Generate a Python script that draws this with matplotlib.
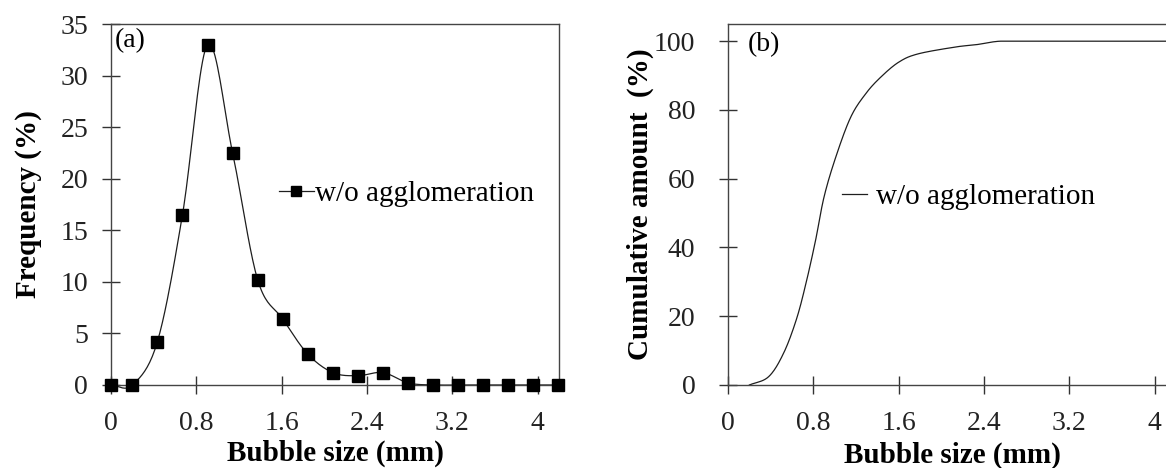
import numpy as np
import matplotlib
matplotlib.use("Agg")
import matplotlib.pyplot as plt

plt.rcParams['font.family'] = ['Liberation Serif', 'DejaVu Serif']

# (a) frequency distribution
size_a = [0, 0.2, 0.435, 0.67, 0.905, 1.14, 1.375, 1.61, 1.845, 2.08,
          2.315, 2.55, 2.785, 3.02, 3.255, 3.49, 3.725, 3.96, 4.195]
freq_a = [0, 0, 4.2, 16.5, 33.0, 22.5, 10.2, 6.4, 3.0, 1.2,
          0.9, 1.2, 0.2, 0, 0, 0, 0, 0, 0]

# (b) cumulative amount
size_b = [0.2, 0.38, 0.52, 0.64, 0.73, 0.82, 0.9, 1.01, 1.15, 1.29,
          1.43, 1.6, 1.78, 2.13, 2.33, 2.51, 2.65, 3.2, 4.2]
cum_b = [0, 2.4, 9.2, 19.0, 29.5, 42.0, 54.7, 66.3, 77.9, 84.7,
         89.5, 93.9, 96.3, 98.3, 99.0, 99.9, 100, 100, 100]

label = "w/o agglomeration"
ticks_x = [0, 0.8, 1.6, 2.4, 3.2, 4]
ticklabels_x = ['0', '0.8', '1.6', '2.4', '3.2', '4']
ink = '#1e1e1e'

FS_TICK = 20
FS_LAB = 21
FS_LEG = 21


def smooth(x, y, n=20):
    """Catmull-Rom pass through the points, close to Excel 'smoothed line'."""
    x = np.asarray(x, float)
    y = np.asarray(y, float)
    px = np.concatenate([[2 * x[0] - x[1]], x, [2 * x[-1] - x[-2]]])
    py = np.concatenate([[2 * y[0] - y[1]], y, [2 * y[-1] - y[-2]]])
    t = np.linspace(0, 1, n, endpoint=False)
    xs, ys = [], []
    for i in range(1, len(px) - 2):
        for p, out in ((px, xs), (py, ys)):
            p0, p1, p2, p3 = p[i - 1], p[i], p[i + 1], p[i + 2]
            out.extend(0.5 * (2 * p1 + (-p0 + p2) * t
                              + (2 * p0 - 5 * p1 + 4 * p2 - p3) * t ** 2
                              + (-p0 + 3 * p1 - 3 * p2 + p3) * t ** 3))
    xs.append(x[-1])
    ys.append(y[-1])
    return np.array(xs), np.array(ys)


fig = plt.figure(figsize=(11.66, 4.68), dpi=100)
ax1 = fig.add_axes([0.0952, 0.1774, 0.3842, 0.7713])
ax2 = fig.add_axes([0.6244, 0.1774, 0.3842, 0.7713])

# ---- panel a
sx, sy = smooth(size_a, freq_a)
ax1.plot(sx, sy, color=ink, lw=0.9, clip_on=False)
ax1.plot(size_a, freq_a, ls='none', marker='s', ms=9, color='black',
         clip_on=False, zorder=5)
ax1.set_xlim(0, 4.2)
ax1.set_ylim(0, 35)
ax1.set_xticks(ticks_x)
ax1.set_xticklabels(ticklabels_x)
ax1.set_yticks(range(0, 36, 5))
ax1.set_xlabel('Bubble size (mm)', fontsize=FS_LAB, fontweight='bold', labelpad=3)
ax1.set_ylabel('Frequency (%)', fontsize=FS_LAB, fontweight='bold', labelpad=13)
ax1.text(0.008, 0.953, '(a)', transform=ax1.transAxes, fontsize=FS_TICK,
         va='center', ha='left')
h1, = ax1.plot([], [], color=ink, lw=0.9, marker='s', ms=7, mfc='black', mec='black')
ax1.legend([h1], [label], loc='center left', bbox_to_anchor=(0.375, 0.53),
           frameon=False, fontsize=FS_LEG, handlelength=1.2, handletextpad=0.02,
           borderpad=0, borderaxespad=0)

# ---- panel b
bx, by = smooth(size_b, cum_b)
ax2.plot(bx, by, color=ink, lw=0.9)
ax2.set_xlim(0, 4.2)
ax2.set_ylim(0, 105)
ax2.set_xticks(ticks_x)
ax2.set_xticklabels(ticklabels_x)
ax2.set_yticks(range(0, 101, 20))
ax2.set_xlabel('Bubble size (mm)', fontsize=FS_LAB, fontweight='bold', labelpad=4)
ax2.set_ylabel('Cumulative amount  (%)', fontsize=FS_LAB, fontweight='bold', labelpad=0)
ax2.text(0.045, 0.942, '(b)', transform=ax2.transAxes, fontsize=FS_TICK,
         va='center', ha='left')
h2, = ax2.plot([], [], color=ink, lw=0.9)
ax2.legend([h2], [label], loc='center left', bbox_to_anchor=(0.255, 0.52),
           frameon=False, fontsize=FS_LEG, handlelength=0.85, handletextpad=0.3,
           borderpad=0, borderaxespad=0)

for ax in (ax1, ax2):
    for s in ax.spines.values():
        s.set_color('#444444')
        s.set_linewidth(1.0)
    ax.tick_params(direction='inout', length=13, width=1.0, color='#333333',
                   labelsize=FS_TICK, labelcolor='#222222')
    ax.tick_params(axis='x', pad=12)
ax1.tick_params(axis='y', pad=10)
ax2.tick_params(axis='y', pad=17)

fig.savefig('out.png', dpi=100, facecolor='white')
